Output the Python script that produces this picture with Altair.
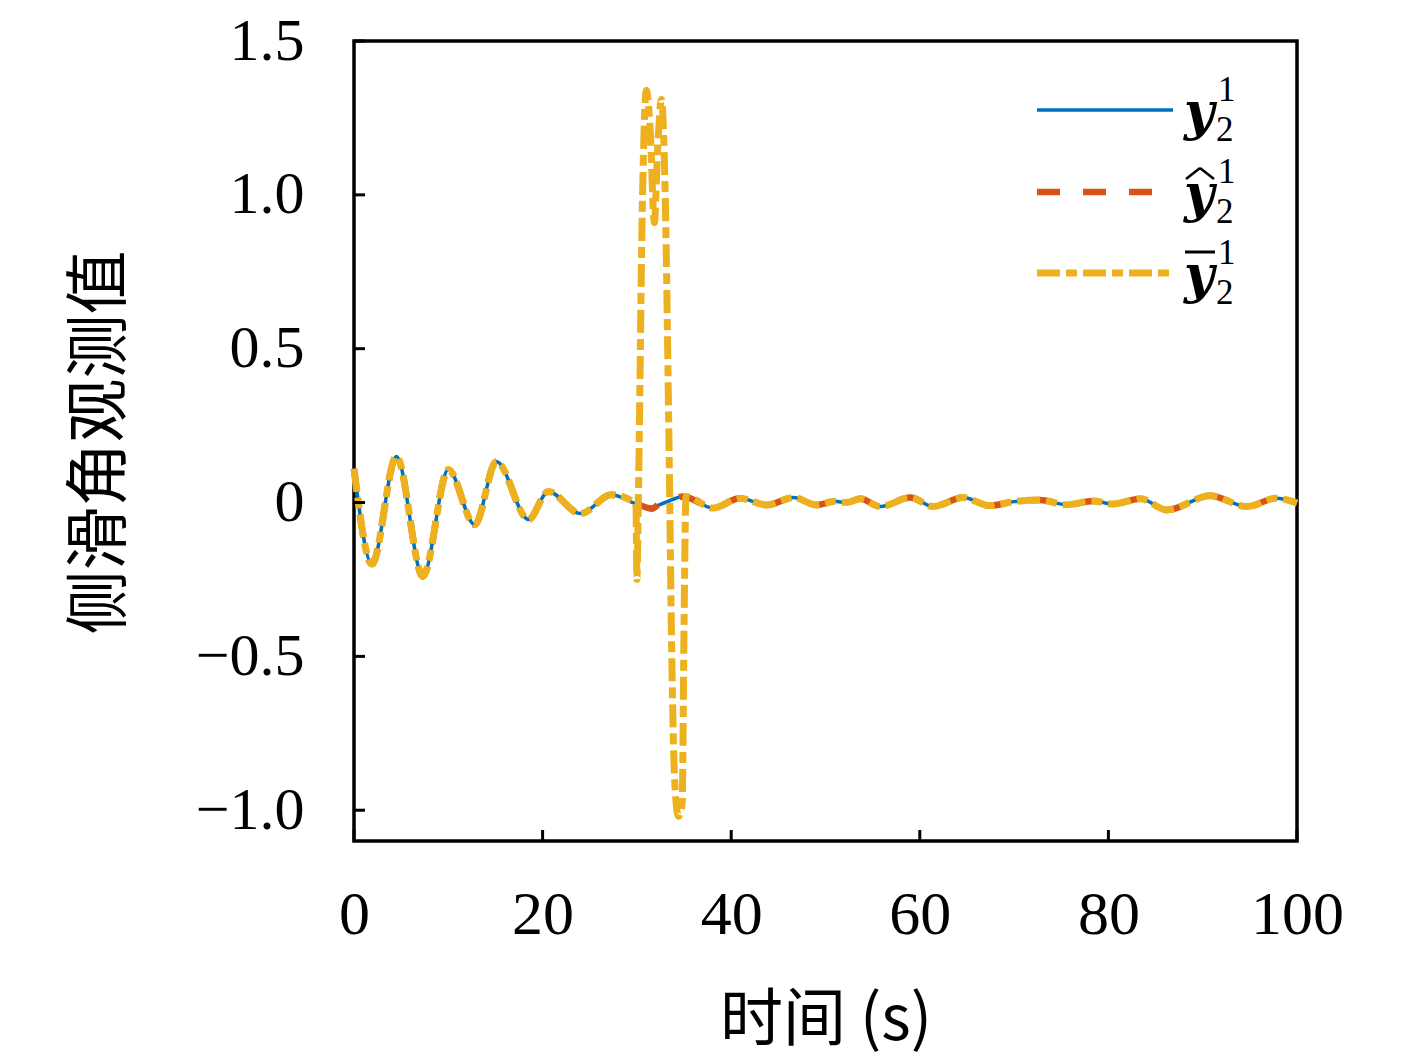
import altair as alt
import pandas as pd

# ---------------- data ----------------
# true sideslip observation y_2^1 (blue) and estimate (red) follow the same path
t_true = [0, 1.9, 4.5, 7.3, 10.0, 12.8, 15.1, 18.5, 20.6, 24.0, 27.3, 30.0, 31.4,
          33.0, 34.9, 38.1, 40.9, 43.8, 46.6, 49.1, 51.0, 52.2, 53.7, 55.8, 59.0,
          61.4, 64.6, 67.4, 70.0, 72.7, 75.6, 78.4, 80.5, 83.4, 86.2, 90.8, 94.7,
          97.8, 100]
y_true = [0.11, -0.20, 0.15, -0.24, 0.107, -0.072, 0.133, -0.055, 0.036, -0.036,
          0.025, -0.005, -0.015, 0.0, 0.02, -0.018, 0.014, -0.008, 0.016, -0.008,
          0.004, 0.0, 0.012, -0.013, 0.016, -0.013, 0.016, -0.01, 0.003, 0.008,
          -0.007, 0.005, -0.005, 0.012, -0.024, 0.022, -0.013, 0.014, -0.002]

t_hat = [0, 1.9, 4.5, 7.3, 10.0, 12.8, 15.1, 18.5, 20.6, 24.0, 27.3, 30.0, 31.6,
         32.4, 33.0, 34.9, 38.1, 40.9, 43.8, 46.6, 49.1, 51.0, 52.2, 53.7, 55.8,
         59.0, 61.4, 64.6, 67.4, 70.0, 72.7, 75.6, 78.4, 80.5, 83.4, 86.2, 90.8,
         94.7, 97.8, 100]
y_hat = [0.11, -0.20, 0.15, -0.24, 0.107, -0.072, 0.133, -0.055, 0.036, -0.036,
         0.025, -0.005, -0.02, -0.004, 0.0, 0.02, -0.018, 0.014, -0.008, 0.016,
         -0.008, 0.004, 0.0, 0.012, -0.013, 0.016, -0.013, 0.016, -0.01, 0.003,
         0.008, -0.007, 0.005, -0.005, 0.012, -0.024, 0.022, -0.013, 0.014, -0.002]

# corrupted observation (yellow) with the spike around 30-35 s
t_bar = [0, 1.9, 4.5, 7.3, 10.0, 12.8, 15.1, 18.5, 20.6, 24.0, 27.3, 29.9, 30.0,
         30.15, 30.6, 31.0, 31.4, 31.85, 32.2, 32.6, 33.0, 33.4, 33.7, 34.0, 34.4,
         34.8, 35.0, 35.2, 38.1, 40.9, 43.8, 46.6, 49.1, 51.0, 52.2, 53.7, 55.8,
         59.0, 61.4, 64.6, 67.4, 70.0, 72.7, 75.6, 78.4, 80.5, 83.4, 86.2, 90.8,
         94.7, 97.8, 100]
y_bar = [0.11, -0.20, 0.15, -0.24, 0.107, -0.072, 0.133, -0.055, 0.036, -0.036,
         0.025, -0.003, -0.25, 0.0, 1.0, 1.34, 1.22, 0.91, 1.15, 1.31, 1.0, 0.2,
         -0.5, -0.9, -1.02, -0.98, -0.4, 0.02, -0.018, 0.014, -0.008, 0.016,
         -0.008, 0.004, 0.0, 0.012, -0.013, 0.016, -0.013, 0.016, -0.01, 0.003,
         0.008, -0.007, 0.005, -0.005, 0.012, -0.024, 0.022, -0.013, 0.014, -0.002]

x_ticks = [0, 20, 40, 60, 80, 100]
y_ticks = [-1.0, -0.5, 0, 0.5, 1.0, 1.5]
x_title = "时间 (s)"
y_title = "侧滑角观测值"
legend_sup = ["1", "1", "1"]
legend_sub = ["2", "2", "2"]

# ---------------- styling ----------------
W, H = 943, 800
BLUE, RED, YEL = "#0072BD", "#D95319", "#EDB120"
NUM_FONT = "Liberation Serif"
SYM_FONT = "DejaVu Serif"
CJK_FONT = "Noto Sans CJK SC"

xs = alt.Scale(domain=[0, 100], nice=False, zero=False)
ys = alt.Scale(domain=[-1.1, 1.5], nice=False, zero=False)

x_axis = alt.Axis(values=x_ticks, title=x_title, grid=False, domain=False,
                  ticks=False, tickSize=0, labelFlush=False, labelOverlap=False,
                  labelFont=NUM_FONT, labelFontSize=62, labelColor="black",
                  labelPadding=43, labelBaseline="top",
                  titleFont=CJK_FONT, titleFontSize=63, titleFontWeight="normal",
                  titleColor="black", titleX=W / 2, titleY=179,
                  titleAlign="center", titleBaseline="middle", titleAngle=0)
y_axis = alt.Axis(values=y_ticks, title=y_title, grid=False, domain=False,
                  ticks=False, tickSize=0, labelFlush=False, labelOverlap=False,
                  labelExpr="datum.value == 0 ? '0' : format(datum.value, '.1f')",
                  labelFont=NUM_FONT, labelFontSize=60, labelColor="black",
                  labelPadding=50,
                  titleFont=CJK_FONT, titleFontSize=64, titleFontWeight="normal",
                  titleColor="black", titleX=-254, titleY=401,
                  titleAlign="center", titleBaseline="middle", titleAngle=270)

X = alt.X("t:Q", scale=xs, axis=x_axis, title=x_title)
Y = alt.Y("v:Q", scale=ys, axis=y_axis, title=y_title)

df_true = pd.DataFrame({"t": t_true, "v": y_true})
df_hat = pd.DataFrame({"t": t_hat, "v": y_hat})
df_bar = pd.DataFrame({"t": t_bar, "v": y_bar})

blue = alt.Chart(df_true).mark_line(color=BLUE, strokeWidth=3.5,
                                    interpolate="monotone").encode(x=X, y=Y)
red = alt.Chart(df_hat).mark_line(color=RED, strokeWidth=6.5, strokeDash=[23, 23],
                                  interpolate="monotone").encode(x=X, y=Y)
yellow = alt.Chart(df_bar).mark_line(color=YEL, strokeWidth=7,
                                     strokeDash=[23, 6, 11, 6],
                                     interpolate="monotone").encode(x=X, y=Y)

# inward tick marks
xt = alt.Chart(pd.DataFrame({"t": x_ticks})).mark_rule(color="black", strokeWidth=3).encode(
    x=X, y=alt.value(H), y2=alt.value(H - 11))
yt = alt.Chart(pd.DataFrame({"v": y_ticks})).mark_rule(color="black", strokeWidth=3).encode(
    y=Y, x=alt.value(0), x2=alt.value(11))

# ---------------- custom legend (top right, inside the frame) ----------------
one = pd.DataFrame({"k": [0]})
layers = []
entries = [(BLUE, 3.5, None, 69, 819), (RED, 6.5, [23, 23], 151, 799),
           (YEL, 7, [23, 6, 11, 6], 232, 816)]
for i, (col, sw, dash, ly, xend) in enumerate(entries):
    kw = dict(color=col, strokeWidth=sw)
    if dash is not None:
        kw["strokeDash"] = dash
    layers.append(alt.Chart(one).mark_rule(**kw).encode(
        x=alt.value(683), x2=alt.value(xend), y=alt.value(ly)))
    layers.append(alt.Chart(one).mark_text(
        font=SYM_FONT, fontSize=52, fontStyle="italic", fontWeight="bold",
        align="center", baseline="alphabetic", color="black").encode(
        x=alt.value(845), y=alt.value(ly + 19), text=alt.value("y")))
    layers.append(alt.Chart(one).mark_text(
        font=NUM_FONT, fontSize=35, align="left", baseline="alphabetic",
        color="black").encode(
        x=alt.value(864), y=alt.value(ly - 9), text=alt.value(legend_sup[i])))
    layers.append(alt.Chart(one).mark_text(
        font=NUM_FONT, fontSize=35, align="left", baseline="alphabetic",
        color="black").encode(
        x=alt.value(862), y=alt.value(ly + 31), text=alt.value(legend_sub[i])))

# hat over second symbol, bar over third
ly2, ly3 = entries[1][3], entries[2][3]
layers.append(alt.Chart(one).mark_rule(color="black", strokeWidth=2.5).encode(
    x=alt.value(832), x2=alt.value(846), y=alt.value(ly2 - 13), y2=alt.value(ly2 - 24)))
layers.append(alt.Chart(one).mark_rule(color="black", strokeWidth=2.5).encode(
    x=alt.value(846), x2=alt.value(860), y=alt.value(ly2 - 24), y2=alt.value(ly2 - 13)))
layers.append(alt.Chart(one).mark_rule(color="black", strokeWidth=3).encode(
    x=alt.value(831), x2=alt.value(861), y=alt.value(ly3 - 21)))

chart = alt.layer(blue, red, yellow, xt, yt, *layers).properties(
    width=W, height=H,
    autosize=alt.AutoSizeParams(type="none"),
    padding={"left": 346, "top": 33, "right": 112, "bottom": 217},
).configure_view(stroke="black", strokeWidth=3.5)

chart.save("out.html", embed_options={"renderer": "svg", "actions": False})
